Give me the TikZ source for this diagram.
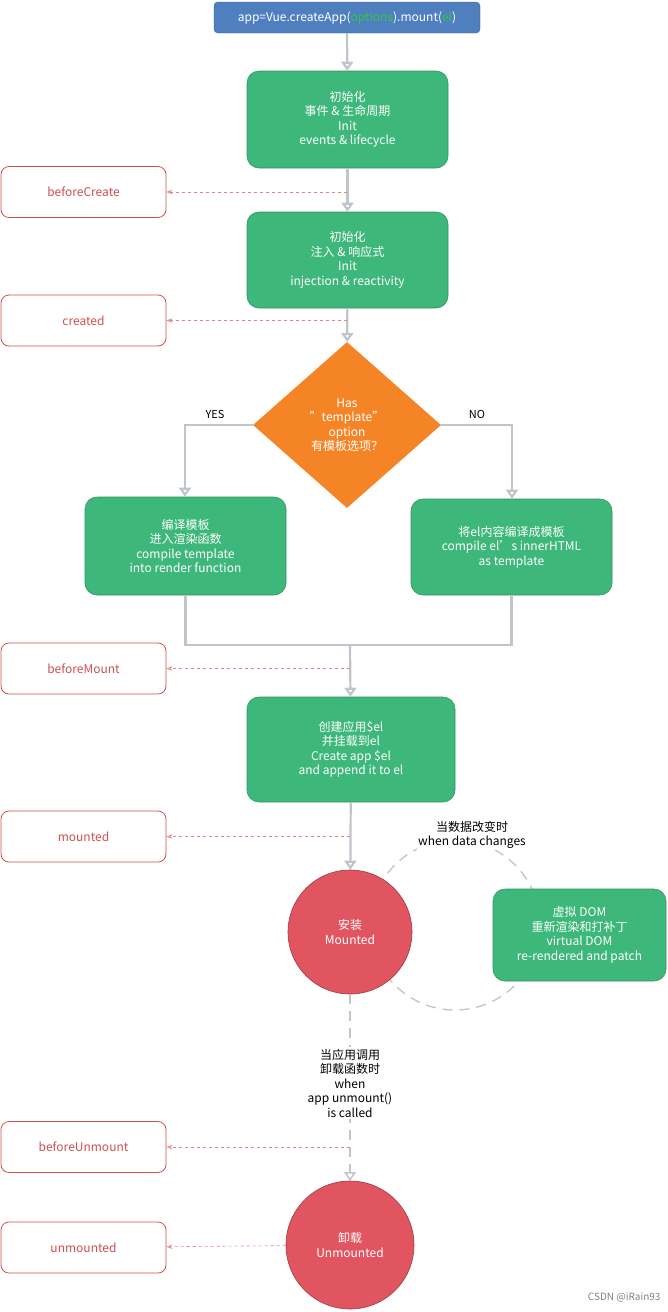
\documentclass[tikz,border=0pt]{standalone}
\usepackage{fontspec}
\setmainfont{Noto Sans CJK SC}
\usetikzlibrary{shapes.geometric,arrows.meta}
\definecolor{gbox}{HTML}{3DB87A}
\definecolor{bbox}{HTML}{4F7FBF}
\definecolor{hook}{HTML}{D0504F}
\definecolor{rc}{HTML}{E05560}
\definecolor{orng}{HTML}{F58426}
\definecolor{gl}{HTML}{BFC5CB}
\definecolor{gtxt}{HTML}{2ECC40}
\begin{document}
\begin{tikzpicture}[x=1pt,y=-1pt,
  every node/.style={font=\fontsize{12}{14.5}\selectfont, align=center},
  gstep/.style={draw=gbox!80!black, fill=gbox, text=white, rounded corners=12pt, minimum width=201pt, line width=0.6pt},
  hk/.style={draw=hook, fill=white, text=hook, rounded corners=8pt, minimum width=165pt, minimum height=51pt, line width=0.8pt},
  flow/.style={gl, line width=2.2pt, -{Triangle[length=9pt,width=12pt,open,fill=none]}},
  fl/.style={gl, line width=2.2pt},
  hkar/.style={hook!70, dashed, line width=0.6pt, -{Stealth[length=6pt,open]}},
  circ/.style={circle, draw=rc!70!black, fill=rc, text=white, line width=0.6pt}]
\useasboundingbox (0,0) rectangle (667,1312);
\node[draw=bbox!70!black, fill=bbox, text=white, rounded corners=4pt, minimum width=266pt, minimum height=31pt] (top) at (347,17.5) {app=Vue.createApp(\textcolor{gtxt}{options}).mount(\textcolor{gtxt}{el})};
\node[gstep, minimum height=97pt] (b1) at (347.5,119.5) {初始化\\事件 \& 生命周期\\Init\\events \& lifecycle};
\node[gstep, minimum height=96pt] (b2) at (347.5,260) {初始化\\注入 \& 响应式\\Init\\injection \& reactivity};
\node[diamond, fill=orng, text=white, minimum width=188pt, minimum height=166pt, inner sep=0pt] (d) at (347,425) {Has\\"template"\\option\\有模板选项？};
\node[gstep, minimum height=98pt] (b3) at (185.5,546) {编译模板\\进入渲染函数\\compile template\\into render function};
\node[gstep, minimum height=96pt] (b4) at (511.5,547) {将el内容编译成模板\\compile el's innerHTML\\as template};
\node[gstep, minimum height=105pt, minimum width=208pt] (b5) at (351,749.5) {创建应用\$el\\并挂载到el\\Create app \$el\\and append it to el};
\coordinate (dc) at (455,925);
\draw[gl, dashed, dash pattern=on 10pt off 7pt, line width=1.3pt] (dc) circle (85);
\node[circ, minimum size=124pt] (m) at (350,932) {安装\\Mounted};
\node[gstep, minimum height=92pt, minimum width=173pt] (b6) at (579.5,935) {虚拟 DOM\\重新渲染和打补丁\\virtual DOM\\re-rendered and patch};
\node[fill=white, inner sep=1pt] (dt) at (472,835) {当数据改变时\\when data changes};
\node[circ, minimum size=128pt] (u) at (350,1245) {卸载\\Unmounted};
% hooks
\node[hk] (h1) at (83.5,192) {beforeCreate};
\node[hk] (h2) at (83.5,320.5) {created};
\node[hk] (h3) at (83.5,668.5) {beforeMount};
\node[hk] (h4) at (83.5,836.5) {mounted};
\node[hk] (h5) at (83.5,1147) {beforeUnmount};
\node[hk] (h6) at (83.5,1247.5) {unmounted};
% flow
\draw[flow] (top) -- (b1);
\draw[flow] (b1) -- (b2);
\draw[flow] (b2) -- (d);
\coordinate (yl) at (185,425); \coordinate (nr) at (512,425);
\draw[flow] (d.west) -- (yl) -- (b3.north -| yl);
\draw[flow] (d.east) -- (nr) -- (b4.north -| nr);
\node[font=\fontsize{11}{13}\selectfont] (yes) at (215,414) {YES};
\node[font=\fontsize{11}{13}\selectfont] (no) at (477,414) {NO};
\coordinate (j) at (350,645);
\draw[fl] (b3.south) -- (b3.south |- j) -- (b4.south |- j) -- (b4.south);
\draw[flow] (j) -- (b5);
\draw[flow] (b5) -- (m);
\coordinate (ue) at (350,1181);
\draw[gl, dashed, dash pattern=on 10pt off 7pt, line width=1.6pt, -{Triangle[length=9pt,width=12pt,open,fill=none]}] (m) -- (ue);
\node[fill=white, inner sep=2pt] (ut) at (350,1083) {当应用调用\\卸载函数时\\when\\app unmount()\\is called};
% hook arrows
\coordinate (c1) at (347,192); \coordinate (c2) at (347,320.5); \coordinate (c3) at (350,668.5); \coordinate (c4) at (350,836.5); \coordinate (c5) at (350,1147);
\draw[hkar] (c1) -- (h1);
\draw[hkar] (c2) -- (h2);
\draw[hkar] (c3) -- (h3);
\draw[hkar] (c4) -- (h4);
\draw[hkar] (c5) -- (h5);
\draw[hkar] (u) -- (h6);
\node[text=gray, font=\fontsize{10}{12}\selectfont, anchor=east] (wm) at (664,1297) {CSDN @iRain93};
\end{tikzpicture}
\end{document}
